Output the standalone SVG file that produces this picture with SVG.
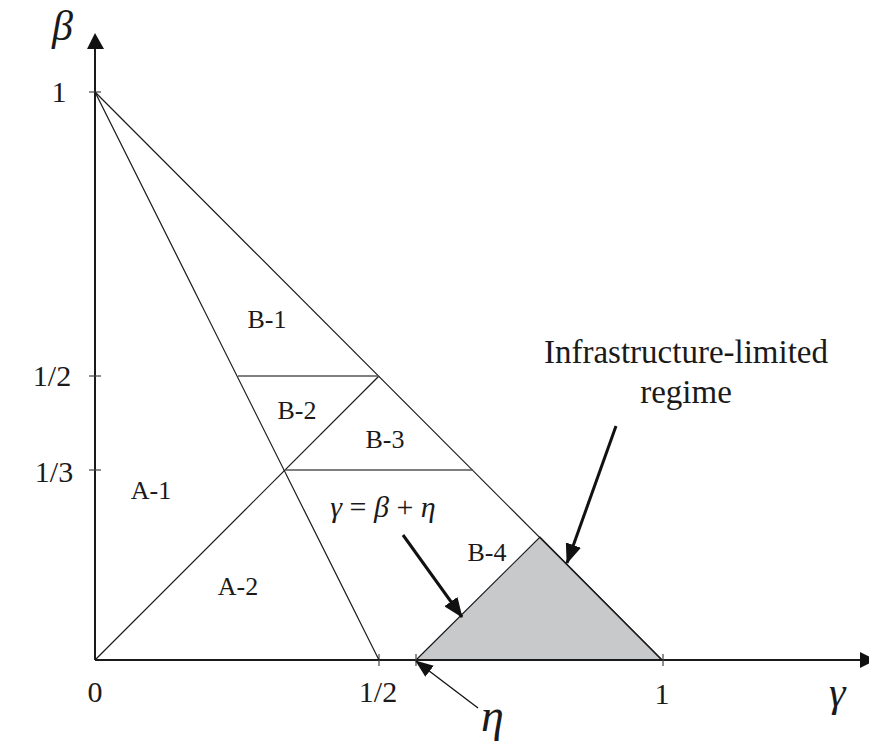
<svg xmlns="http://www.w3.org/2000/svg" width="869" height="745" viewBox="0 0 869 745">
<style>
.ax{stroke:#1a1a1a;stroke-width:2;fill:none}
.ln{stroke:#1a1a1a;stroke-width:1.2;fill:none}
.hz{stroke:#555;stroke-width:1.6;fill:none}
.tk{stroke:#444;stroke-width:1.2}
.ar{stroke:#111;stroke-width:3;fill:none}
.ar2{stroke:#111;stroke-width:1.3;fill:none}
.t{font-family:"Liberation Serif","Times New Roman",serif;fill:#1a1a1a}
.lab{font-size:26px}
.num{font-size:30px}
.g{font-style:italic}
</style>
<defs>
<marker id="ah" viewBox="0 0 20 16" refX="19" refY="8" markerWidth="20" markerHeight="16" markerUnits="userSpaceOnUse" orient="auto">
<path d="M0,0 L20,8 L0,16 z" fill="#111"/>
</marker>
<marker id="ahs" viewBox="0 0 18 14" refX="17" refY="7" markerWidth="18" markerHeight="14" markerUnits="userSpaceOnUse" orient="auto">
<path d="M0,0 L18,7 L0,14 z" fill="#111"/>
</marker>
</defs>
<rect width="869" height="745" fill="#fff"/>

<g id="region-shaded">
<polygon points="416,660 662,660 540,537" fill="#c8c9cb" stroke="#1a1a1a" stroke-width="1.2"/>
</g>

<g id="axes">
<line class="ax" x1="95" y1="660" x2="95" y2="48"/>
<polygon points="95,33 87,49 104,49" fill="#111"/>
<line class="ax" x1="95" y1="660" x2="861" y2="660"/>
<polygon points="876,660 860,652 860,668" fill="#111"/>
<line class="tk" x1="89" y1="92" x2="101" y2="92"/>
<line class="tk" x1="89" y1="376" x2="101" y2="376"/>
<line class="tk" x1="89" y1="470" x2="101" y2="470"/>
<line class="tk" x1="379" y1="654" x2="379" y2="666"/>
<line class="tk" x1="416" y1="654" x2="416" y2="666"/>
<line class="tk" x1="663" y1="654" x2="663" y2="666"/>
</g>

<g id="connectors">
<line class="ln" x1="95" y1="92" x2="662" y2="660"/>
<line class="ln" x1="95" y1="92" x2="379" y2="660"/>
<line class="ln" x1="95" y1="660" x2="379" y2="376"/>
<line class="hz" x1="238" y1="376" x2="379" y2="376"/>
<line class="hz" x1="285" y1="470" x2="473" y2="470"/>
<line class="ar" x1="616" y1="426" x2="567" y2="563" marker-end="url(#ah)"/>
<line class="ar" x1="403" y1="535" x2="462" y2="617" marker-end="url(#ah)"/>
<line class="ar2" x1="478" y1="708" x2="416" y2="661" marker-end="url(#ahs)"/>
</g>

<g id="axis-labels">
<text class="t g" x="52" y="40" font-size="42">β</text>
<text class="t num" x="59" y="102" text-anchor="middle">1</text>
<text class="t num" x="52" y="386" text-anchor="middle">1/2</text>
<text class="t num" x="54" y="482" text-anchor="middle">1/3</text>
<text class="t num" x="95" y="702" text-anchor="middle">0</text>
<text class="t num" x="378" y="702" text-anchor="middle">1/2</text>
<text class="t num" x="662" y="704" text-anchor="middle">1</text>
<text class="t g" x="829" y="706" font-size="42">γ</text>
<text class="t g" x="481" y="731" font-size="46">η</text>
</g>

<g id="B-1"><text class="t lab" x="267" y="328" text-anchor="middle">B-1</text></g>
<g id="B-2"><text class="t lab" x="297" y="419" text-anchor="middle">B-2</text></g>
<g id="B-3"><text class="t lab" x="385" y="448" text-anchor="middle">B-3</text></g>
<g id="B-4"><text class="t lab" x="487" y="561" text-anchor="middle">B-4</text></g>
<g id="A-1"><text class="t lab" x="151" y="499" text-anchor="middle">A-1</text></g>
<g id="A-2"><text class="t lab" x="238" y="595" text-anchor="middle">A-2</text></g>

<g id="eq-label">
<text class="t" x="383" y="517" font-size="30" text-anchor="middle"><tspan font-style="italic">γ</tspan> = <tspan font-style="italic">β</tspan> + <tspan font-style="italic">η</tspan></text>
</g>

<g id="regime-label">
<text class="t" x="686" y="363" font-size="33" text-anchor="middle">Infrastructure-limited</text>
<text class="t" x="686" y="403" font-size="33" text-anchor="middle">regime</text>
</g>
</svg>
